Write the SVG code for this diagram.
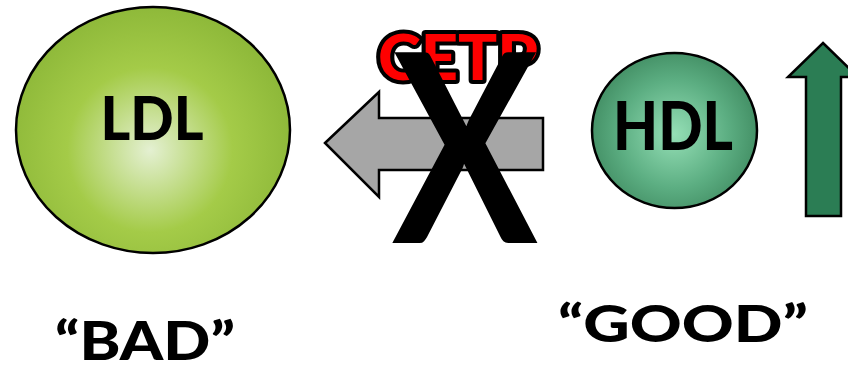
<svg xmlns="http://www.w3.org/2000/svg" width="848" height="367" viewBox="0 0 848 367">
  <style>
    .lbl { font-family: Lato, "Noto Sans", "Liberation Sans", sans-serif; font-weight: 900; fill: #000; text-anchor: middle; }
    .outline { stroke: #000; stroke-width: 2.5; }
  </style>
  <defs>
    <radialGradient id="gLDL" cx="150" cy="150" r="150" gradientUnits="userSpaceOnUse">
      <stop offset="0" stop-color="#e4f0d2"/>
      <stop offset="0.55" stop-color="#a4cb48"/>
      <stop offset="1" stop-color="#8cb738"/>
    </radialGradient>
    <radialGradient id="gHDL" cx="674" cy="134" r="90" gradientUnits="userSpaceOnUse">
      <stop offset="0" stop-color="#95dfb6"/>
      <stop offset="0.6" stop-color="#5cae82"/>
      <stop offset="1" stop-color="#3f8a60"/>
    </radialGradient>
  </defs>
  <rect width="848" height="367" fill="#fff"/>

  <g id="ldl">
    <ellipse cx="153" cy="130" rx="137" ry="123" fill="url(#gLDL)" class="outline"/>
    <text class="lbl" x="152" y="140" font-size="61" textLength="103" lengthAdjust="spacingAndGlyphs">LDL</text>
  </g>

  <g id="hdl">
    <ellipse cx="674.5" cy="130.5" rx="82.5" ry="77.5" fill="url(#gHDL)" class="outline"/>
    <text class="lbl" x="673" y="150" font-size="66" textLength="120" lengthAdjust="spacingAndGlyphs">HDL</text>
  </g>

  <g id="connectors">
    <path id="cetp-arrow" d="M325,143 L379,92 L379,118 L543,118 L543,170 L379,170 L379,197 Z" fill="#a6a6a6" class="outline" stroke-linejoin="miter"/>
    <path id="hdl-up-arrow" d="M823,43 L858,77 L841,77 L841,216 L806,216 L806,77 L788,77 Z" fill="#2b7d54" class="outline"/>
  </g>

  <g id="cetp">
    <text x="458" y="80" font-family="Lato, 'Noto Sans', 'Liberation Sans', sans-serif" font-weight="900" font-size="63" text-anchor="middle" fill="#ff0000" stroke="#000" stroke-width="8" stroke-linejoin="round" paint-order="stroke" textLength="160" lengthAdjust="spacingAndGlyphs">CETP</text>
  </g>

  <g id="cross">
    <text x="465" y="243" font-family="Lato, 'Noto Sans', 'Liberation Sans', sans-serif" font-weight="bold" font-size="264" text-anchor="middle" fill="#000" textLength="146" lengthAdjust="spacingAndGlyphs">X</text>
  </g>

  <g id="bad">
    <text class="lbl" x="145" y="360" font-size="53" textLength="180" lengthAdjust="spacingAndGlyphs">“BAD”</text>
  </g>
  <g id="good">
    <text class="lbl" x="683" y="342" font-size="52" textLength="250" lengthAdjust="spacingAndGlyphs">“GOOD”</text>
  </g>
</svg>
